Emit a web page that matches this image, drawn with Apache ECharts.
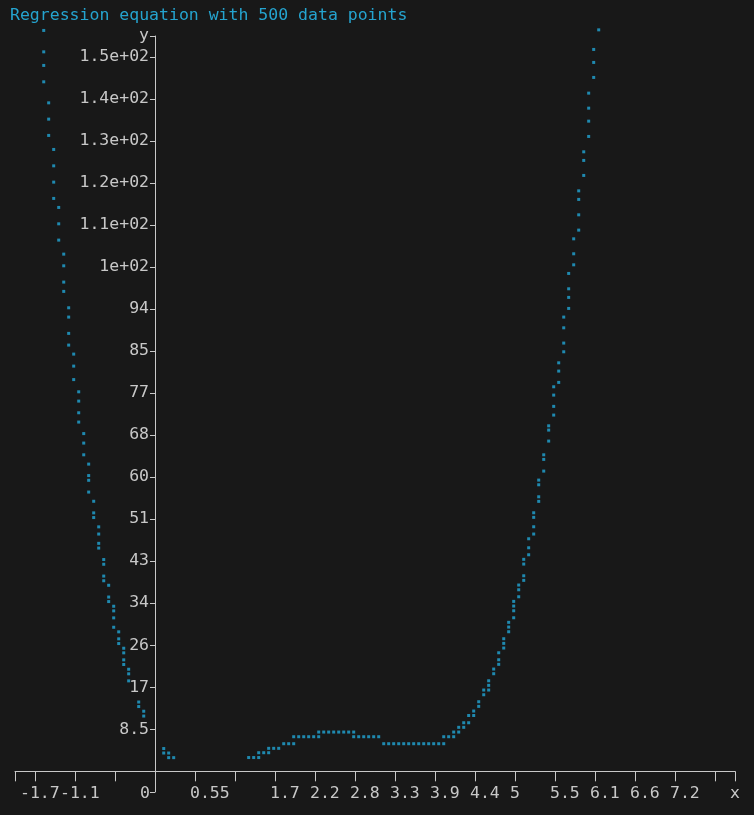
<!DOCTYPE html>
<html><head><meta charset="utf-8">
<script src="https://cdn.jsdelivr.net/npm/echarts@6/dist/echarts.min.js"></script>
<style>html,body{margin:0;padding:0;background:#181818;}#c{width:754px;height:815px;}</style>
</head><body><div id="c"></div>
<script>
const TITLE = 'Regression equation with 500 data points';

const xTickValues = [-1.925, -1.65, -1.1, -0.55, 0, 0.55, 1.1, 1.65, 2.2, 2.75, 3.3, 3.85, 4.4, 4.95, 5.5, 6.05, 6.6, 7.15, 7.7, 7.975];
const xLabelValues = [-1.65, -1.1, 0, 0.55, 1.65, 2.2, 2.75, 3.3, 3.85, 4.4, 4.95, 5.5, 6.05, 6.6, 7.15, 7.975];
const xLabelTexts = ['-1.7', '-1.1', '0', '0.55', '1.7', '2.2', '2.8', '3.3', '3.9', '4.4', '5', '5.5', '6.1', '6.6', '7.2', 'x'];

const yTickValues = [-4.2, 8.54, 17.08, 25.62, 34.16, 42.7, 51.24, 59.78, 68.32, 76.86, 85.4, 93.94, 102.48, 111.02, 119.56, 128.1, 136.64, 145.18, 149.4];
const yLabelValues = [8.54, 17.08, 25.62, 34.16, 42.7, 51.24, 59.78, 68.32, 76.86, 85.4, 93.94, 102.48, 111.02, 119.56, 128.1, 136.64, 145.18, 149.4];
const yLabelTexts = ['8.5', '17', '26', '34', '43', '51', '60', '68', '77', '85', '94', '1e+02', '1.1e+02', '1.2e+02', '1.3e+02', '1.4e+02', '1.5e+02', 'y'];

const leftBranch = [
  [-1.530,150.53],[-1.530,146.18],[-1.530,143.42],[-1.530,140.09],
  [-1.462,135.82],[-1.462,132.51],[-1.462,129.20],
  [-1.393,126.35],[-1.393,123.02],[-1.393,119.71],[-1.393,116.40],
  [-1.324,114.57],[-1.324,111.24],[-1.324,107.93],
  [-1.255,105.08],[-1.255,102.71],[-1.255,99.40],[-1.255,97.51],
  [-1.187,94.18],[-1.187,92.29],[-1.187,88.98],[-1.187,86.60],
  [-1.118,84.77],[-1.118,82.33],[-1.118,79.59],
  [-1.049,77.11],[-1.049,75.22],[-1.049,72.85],[-1.049,70.96],
  [-0.980,68.62],[-0.980,66.69],[-0.980,64.31],
  [-0.912,62.42],[-0.912,60.09],[-0.912,59.13],[-0.912,56.74],
  [-0.843,54.87],[-0.843,52.51],[-0.843,51.56],
  [-0.774,49.67],[-0.774,48.21],[-0.774,46.32],[-0.774,45.36],
  [-0.705,43.03],[-0.705,42.07],[-0.705,39.67],[-0.705,38.72],
  [-0.637,37.80],[-0.637,35.41],[-0.637,34.49],
  [-0.568,33.54],[-0.568,32.60],[-0.568,31.18],[-0.568,29.27],
  [-0.499,28.34],[-0.499,26.92],[-0.499,25.96],
  [-0.430,25.01],[-0.430,24.07],[-0.430,22.65],[-0.430,21.70],
  [-0.362,20.74],[-0.362,19.81],[-0.362,18.38],
  [-0.224,14.08],[-0.224,13.16],
  [-0.155,12.21],[-0.155,11.23],
  [0.120,4.63],[0.120,3.72],[0.188,3.72],[0.188,2.78],[0.257,2.78]
];

const valley = [
  [1.288,2.80],[1.357,2.80],[1.426,2.80],[1.426,3.78],[1.495,3.78],[1.563,3.78],[1.563,4.67],
  [1.632,4.67],[1.701,4.67],[1.770,5.61],[1.838,5.61],[1.907,5.61],[1.907,7.03],[1.976,7.03],
  [2.045,7.03],[2.113,7.03],[2.182,7.03],[2.251,7.03],[2.251,7.98],[2.320,7.98],[2.388,7.98],
  [2.457,7.98],[2.526,7.98],[2.595,7.98],[2.663,7.98],[2.732,7.98],[2.732,7.03],[2.801,7.03],
  [2.870,7.03],[2.938,7.03],[3.007,7.03],[3.076,7.03],[3.145,5.61],[3.213,5.61],[3.282,5.61],
  [3.351,5.61],[3.420,5.61],[3.488,5.61],[3.557,5.61],[3.626,5.61],[3.695,5.61],[3.763,5.61],
  [3.832,5.61],[3.901,5.61],[3.970,5.61],[3.970,7.03],[4.038,7.03],[4.107,7.03],[4.107,7.98],
  [4.176,7.98],[4.176,8.94],[4.245,8.94],[4.245,9.87],[4.313,9.87],[4.313,11.34],[4.382,11.34],
  [4.382,12.25]
];

const rightBranch = [
  [4.451,13.20],[4.451,14.14],
  [4.520,15.56],[4.520,16.52],
  [4.588,16.52],[4.588,17.47],[4.588,18.40],
  [4.657,19.83],[4.657,20.78],
  [4.726,21.74],[4.726,22.67],[4.726,24.09],
  [4.795,25.05],[4.795,26.00],[4.795,26.94],
  [4.863,28.36],[4.863,29.31],[4.863,30.27],
  [4.932,31.20],[4.932,32.62],[4.932,33.58],[4.932,34.53],
  [5.001,35.47],[5.001,36.89],[5.001,37.85],
  [5.070,38.80],[5.070,39.73],[5.070,42.11],[5.070,43.07],
  [5.138,44.00],[5.138,45.42],[5.138,47.25],
  [5.207,48.21],[5.207,49.69],[5.207,51.60],[5.207,52.53],
  [5.276,54.85],[5.276,55.78],[5.276,58.22],[5.276,59.17],
  [5.345,61.00],[5.345,63.38],[5.345,64.31],
  [5.413,67.10],[5.413,69.33],[5.413,70.20],
  [5.482,72.38],[5.482,74.15],[5.482,76.44],[5.482,78.13],
  [5.551,79.02],[5.551,81.32],[5.551,83.00],
  [5.620,85.24],[5.620,87.01],[5.620,90.11],[5.620,92.29],
  [5.688,94.05],[5.688,96.29],[5.688,98.04],[5.688,101.16],
  [5.757,102.91],[5.757,105.15],[5.757,108.19],
  [5.826,109.96],[5.826,113.07],[5.826,116.20],[5.826,117.94],
  [5.895,121.07],[5.895,124.12],[5.895,125.87],
  [5.963,128.99],[5.963,132.10],[5.963,134.74],[5.963,137.79],
  [6.032,140.98],[6.032,144.03],[6.032,146.67],
  [6.101,150.65]
];

const MONO = 'DejaVu Sans Mono';
const FS = 16.5;
const AXIS_COLOR = '#c8c8c8';
const DOT_COLOR = '#22a6d6';

function lookup(vals, texts, v) {
  for (let i = 0; i < vals.length; i++) {
    if (Math.abs(vals[i] - v) < 1e-6) return texts[i];
  }
  return '';
}

const GRID = {left: 15, right: 19, top: 36, bottom: 23};
const X_MIN = -1.925, X_MAX = 7.975, Y_MIN = -4.2, Y_MAX = 149.4;
const W = 754, H = 815;
const plotW = W - GRID.left - GRID.right, plotH = H - GRID.top - GRID.bottom;
// axis offsets so that each axis crosses the other at zero
const xAxisOffset = -plotH * (0 - Y_MIN) / (Y_MAX - Y_MIN);
const yAxisOffset = -plotW * (0 - X_MIN) / (X_MAX - X_MIN);

const chart = echarts.init(document.getElementById('c'), null, {renderer: 'canvas'});
chart.setOption({
  backgroundColor: '#181818',
  animation: false,
  title: {
    text: TITLE, left: 10, top: 7, padding: 0,
    textStyle: {color: '#25a4cf', fontFamily: MONO, fontSize: FS, fontWeight: 'normal'}
  },
  grid: Object.assign({containLabel: false, outerBoundsMode: 'none'}, GRID),
  xAxis: {
    type: 'value', min: X_MIN, max: X_MAX, position: 'bottom', offset: xAxisOffset,
    splitLine: {show: false},
    axisLine: {onZero: false, lineStyle: {color: AXIS_COLOR, width: 1}},
    axisTick: {show: true, customValues: xTickValues, length: 10, lineStyle: {color: AXIS_COLOR, width: 1}},
    axisLabel: {
      customValues: xLabelValues, align: 'left', margin: 14, hideOverlap: false,
      showMinLabel: true, showMaxLabel: true,
      color: AXIS_COLOR, fontFamily: MONO, fontSize: FS,
      formatter: function (v) {
        const t = lookup(xLabelValues, xLabelTexts, v);
        if (!t) return '';
        return (t.charAt(0) === '-' || t === '0') ? '{n|' + t + '}' : '{p|' + t + '}';
      },
      rich: {
        p: {padding: [0, 0, 0, -5], color: AXIS_COLOR, fontFamily: MONO, fontSize: FS},
        n: {padding: [0, 0, 0, -15], color: AXIS_COLOR, fontFamily: MONO, fontSize: FS}
      }
    }
  },
  yAxis: {
    type: 'value', min: Y_MIN, max: Y_MAX, position: 'left', offset: yAxisOffset,
    splitLine: {show: false},
    axisLine: {onZero: false, lineStyle: {color: AXIS_COLOR, width: 1}},
    axisTick: {show: true, customValues: yTickValues, length: 5, lineStyle: {color: AXIS_COLOR, width: 1}},
    axisLabel: {
      customValues: yLabelValues, margin: 6, hideOverlap: false,
      showMinLabel: true, showMaxLabel: true,
      color: AXIS_COLOR, fontFamily: MONO, fontSize: FS,
      formatter: function (v) { return lookup(yLabelValues, yLabelTexts, v); }
    }
  },
  series: [{
    type: 'scatter',
    data: leftBranch.concat(valley, rightBranch),
    symbol: 'rect', symbolSize: 3,
    clip: false,
    itemStyle: {color: DOT_COLOR},
    emphasis: {disabled: true}
  }]
});
</script>
</body></html>
